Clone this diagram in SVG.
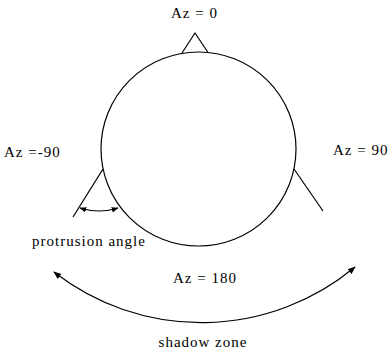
<svg xmlns="http://www.w3.org/2000/svg" width="392" height="352" viewBox="0 0 392 352">
  <style>
    .ln { fill: none; stroke: #000; stroke-width: 1.2; }
    .lbl { font-family: 'Liberation Serif', 'DejaVu Serif', serif; font-size: 15px; fill: #000; letter-spacing: 1px; }
  </style>
  <defs>
    <marker id="ah" viewBox="0 0 10 10" refX="9" refY="5" markerWidth="8" markerHeight="8" markerUnits="userSpaceOnUse" orient="auto-start-reverse">
      <path d="M0,1 L10,5 L0,9 Z" fill="#000"/>
    </marker>
    <marker id="ahs" viewBox="0 0 10 10" refX="9" refY="5" markerWidth="7" markerHeight="7" markerUnits="userSpaceOnUse" orient="auto-start-reverse">
      <path d="M0,1 L10,5 L0,9 Z" fill="#000"/>
    </marker>
  </defs>
  <g id="head">
    <ellipse class="ln" cx="198.5" cy="149" rx="97.5" ry="97"/>
  </g>
  <g id="nose">
    <polyline class="ln" points="182,53 195,33 208,52.5"/>
  </g>
  <g id="left-ear">
    <line class="ln" x1="103" y1="169" x2="73" y2="217"/>
  </g>
  <g id="right-ear">
    <line class="ln" x1="294" y1="169" x2="323" y2="211"/>
  </g>
  <g id="connectors">
    <path class="ln" d="M80,208 Q99,214 118,208" marker-start="url(#ahs)" marker-end="url(#ahs)"/>
    <path class="ln" d="M54,272 A240,240 0 0 0 355,267" marker-start="url(#ah)" marker-end="url(#ah)"/>
  </g>
  <g id="labels" font-family="Liberation Serif, DejaVu Serif, serif">
    <text class="lbl" font-family="Liberation Serif, DejaVu Serif, serif" x="171" y="18">Az = 0</text>
    <text class="lbl" font-family="Liberation Serif, DejaVu Serif, serif" x="4" y="157">Az =-90</text>
    <text class="lbl" font-family="Liberation Serif, DejaVu Serif, serif" x="333" y="155">Az = 90</text>
    <text class="lbl" font-family="Liberation Serif, DejaVu Serif, serif" x="32" y="246">protrusion angle</text>
    <text class="lbl" font-family="Liberation Serif, DejaVu Serif, serif" x="173" y="283">Az = 180</text>
    <text class="lbl" font-family="Liberation Serif, DejaVu Serif, serif" x="203" y="347" text-anchor="middle">shadow zone</text>
  </g>
</svg>
